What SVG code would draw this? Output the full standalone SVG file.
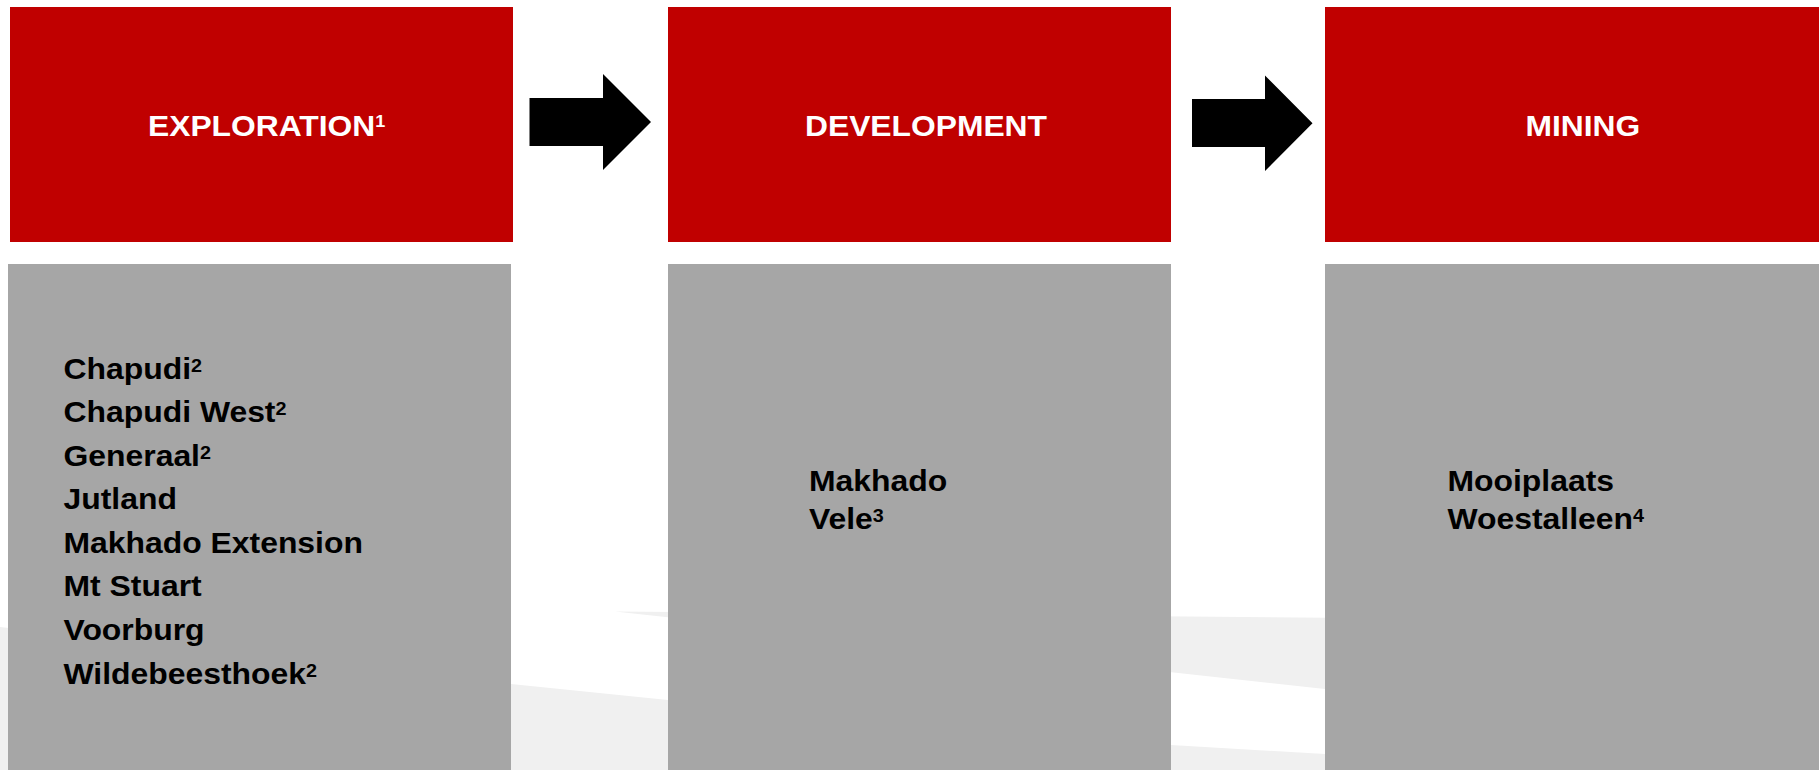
<svg xmlns="http://www.w3.org/2000/svg" width="1819" height="770" viewBox="0 0 1819 770">
<style>
.hdr{fill:#c00000}
.body{fill:#a6a6a6}
.bg{fill:#f0f0f0}
.ht{font-family:"Liberation Sans",Arial,sans-serif;font-weight:bold;font-size:30px;fill:#ffffff}
.lt{font-family:"Liberation Sans",Arial,sans-serif;font-weight:bold;font-size:29px;fill:#000000}
.sup{font-size:18px}
.arrow{fill:#000000}
</style>
<rect x="0" y="0" width="1819" height="770" fill="#ffffff"/>
<g id="background">
<polygon class="bg" points="615,611.5 1819,622 1819,743"/>
<polygon class="bg" points="0,627 511,684 668,700 1171,745 1325,754 1819,778 1819,770 0,770"/>
</g>
<g id="exploration-header">
<rect class="hdr" x="10" y="7" width="503" height="235"/>
<g transform="translate(148,136) scale(1.06,1)"><text class="ht" x="0" y="0">EXPLORATION<tspan font-size="17" dy="-9">1</tspan></text></g>
</g>
<g id="development-header">
<rect class="hdr" x="668" y="7" width="503" height="235"/>
<g transform="translate(805,136) scale(1.06,1)"><text class="ht" x="0" y="0">DEVELOPMENT</text></g>
</g>
<g id="mining-header">
<rect class="hdr" x="1325" y="7" width="503" height="235"/>
<g transform="translate(1525.5,136) scale(1.06,1)"><text class="ht" x="0" y="0">MINING</text></g>
</g>
<g id="exploration-list">
<rect class="body" x="8" y="264" width="503" height="506"/>
<g transform="translate(63.5,378.5) scale(1.1,1)">
<text class="lt" x="0" y="0">Chapudi<tspan class="sup" dy="-7">2</tspan></text>
<text class="lt" x="0" y="43.6">Chapudi West<tspan class="sup" dy="-7">2</tspan></text>
<text class="lt" x="0" y="87.2">Generaal<tspan class="sup" dy="-7">2</tspan></text>
<text class="lt" x="0" y="130.8">Jutland</text>
<text class="lt" x="0" y="174.4">Makhado Extension</text>
<text class="lt" x="0" y="218">Mt Stuart</text>
<text class="lt" x="0" y="261.6">Voorburg</text>
<text class="lt" x="0" y="305.2">Wildebeesthoek<tspan class="sup" dy="-7">2</tspan></text>
</g>
</g>
<g id="development-list">
<rect class="body" x="668" y="264" width="503" height="506"/>
<g transform="translate(809,490.5) scale(1.1,1)">
<text class="lt" x="0" y="0">Makhado</text>
<text class="lt" x="0" y="39">Vele<tspan class="sup" dy="-7">3</tspan></text>
</g>
</g>
<g id="mining-list">
<rect class="body" x="1325" y="264" width="503" height="506"/>
<g transform="translate(1447.5,490.5) scale(1.1,1)">
<text class="lt" x="0" y="0">Mooiplaats</text>
<text class="lt" x="0" y="39">Woestalleen<tspan class="sup" dy="-7">4</tspan></text>
</g>
</g>
<g id="connectors">
<polygon class="arrow" points="529.5,98 603,98 603,74 651,122 603,170 603,146 529.5,146"/>
<polygon class="arrow" points="1192,99 1265,99 1265,75.5 1312.5,123.3 1265,171 1265,147 1192,147"/>
</g>
</svg>
